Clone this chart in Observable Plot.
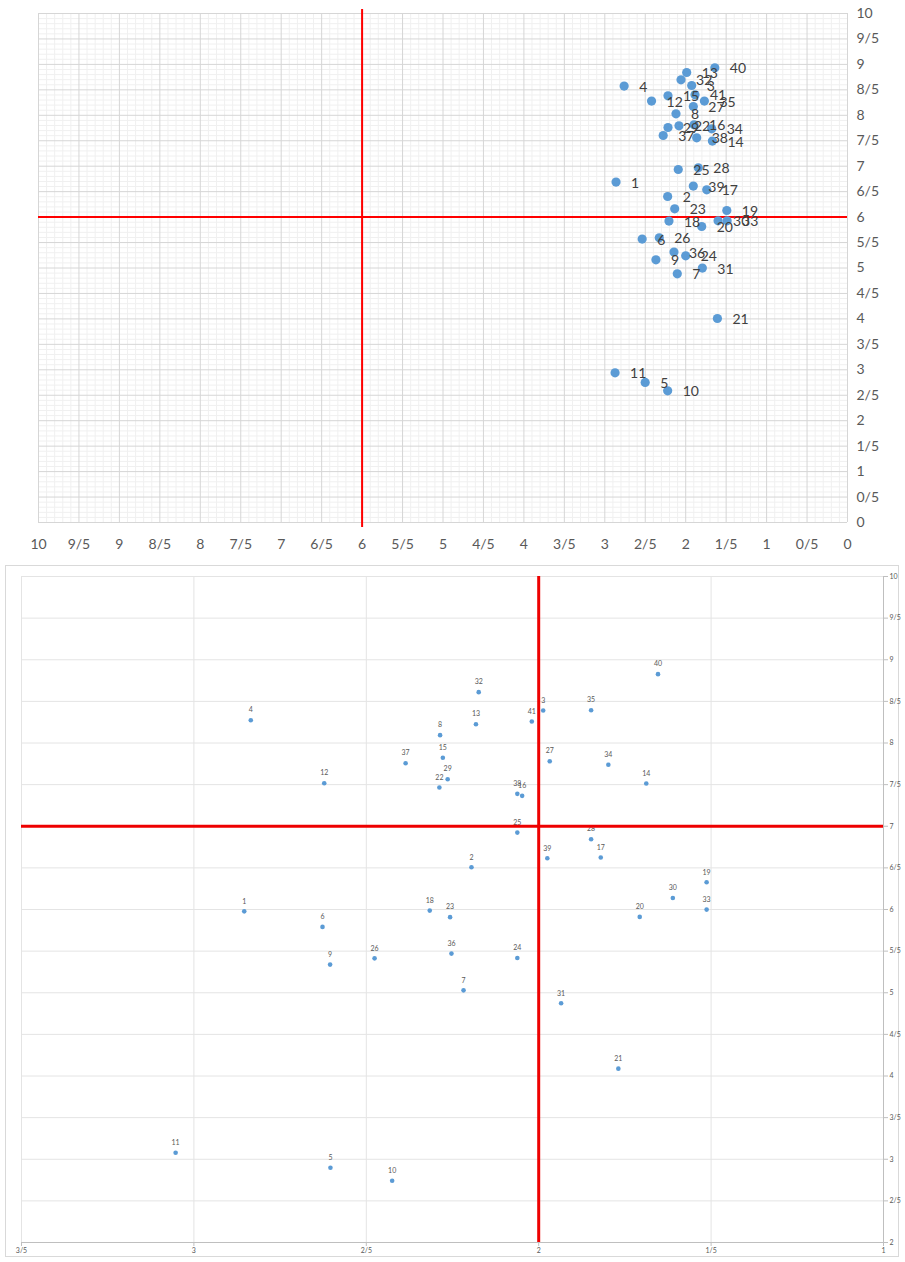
<!DOCTYPE html>
<html>
<head>
<meta charset="utf-8">
<script src="https://cdn.jsdelivr.net/npm/d3@7"></script>
<script src="https://cdn.jsdelivr.net/npm/@observablehq/plot@0.6"></script>
<style>
  html, body { margin: 0; padding: 0; background: #fff; }
  #wrap { position: relative; width: 905px; height: 1262px; font-family: Lato, "Open Sans", sans-serif; }
  #top { position: absolute; left: 0; top: 0; }
  #bottom { position: absolute; left: 0; top: 560px; }
  #box { position: absolute; left: 5px; top: 565px; width: 894px; height: 692px; border: 1px solid #d9d9d9; box-sizing: border-box; pointer-events: none; }
</style>
</head>
<body>
<div id="wrap">
  <div id="top"></div>
  <div id="box"></div>
  <div id="bottom"></div>
</div>
<script>
// ---- Point ids ----
const ids = [1,2,3,4,5,6,7,8,9,10,11,12,13,14,15,16,17,18,19,20,21,22,23,24,25,26,27,28,29,30,31,32,33,34,35,36,37,38,39,40,41];

// ---- Top chart values (x axis reversed 10 -> 0) ----
const topX = [2.861,2.223,1.926,2.761,2.501,2.538,2.104,2.120,2.368,2.223,2.873,2.422,1.988,1.670,2.219,1.897,1.740,2.207,1.492,1.802,1.608,2.083,2.136,2.000,2.092,2.327,1.906,1.844,2.219,1.600,1.794,2.058,1.488,1.678,1.769,2.145,2.278,1.864,1.906,1.640,1.885];
const topY = [6.688,6.405,8.585,8.574,2.751,5.568,4.886,8.029,5.161,2.587,2.941,8.279,8.841,7.493,8.383,7.813,6.536,5.921,6.130,5.815,4.008,7.794,6.163,5.240,6.935,5.593,8.173,6.969,7.760,5.927,4.998,8.697,5.927,7.735,8.279,5.312,7.603,7.558,6.609,8.933,8.403];

// ---- Bottom chart values (zoomed view) ----
const botX = [2.854,2.195,1.987,2.835,2.604,2.627,2.218,2.286,2.605,2.425,3.053,2.622,2.182,1.688,2.278,2.048,1.820,2.316,1.513,1.707,1.769,2.288,2.257,2.062,2.062,2.476,1.968,1.848,2.264,1.611,1.935,2.174,1.513,1.798,1.848,2.253,2.386,2.062,1.975,1.654,2.020];
const botY = [5.978,6.507,8.391,8.274,2.898,5.791,5.029,8.094,5.338,2.742,3.078,7.517,8.226,7.513,7.822,7.365,6.624,5.987,6.327,5.911,4.088,7.465,5.908,5.418,6.924,5.413,7.781,6.844,7.565,6.139,4.873,8.611,5.999,7.738,8.394,5.470,7.757,7.389,6.615,8.827,8.258];

// ---- Tick values ----
const topTicks = [0,0.5,1,1.5,2,2.5,3,3.5,4,4.5,5,5.5,6,6.5,7,7.5,8,8.5,9,9.5,10];
const botXTicks = [1,1.5,2,2.5,3,3.5];
const botYTicks = [2,2.5,3,3.5,4,4.5,5,5.5,6,6.5,7,7.5,8,8.5,9,9.5,10];

// ---- Reference (red) lines ----
const topRefX = [6], topRefY = [6];
const botRefX = [2], botRefY = [7];

const fmt = d => String(d).replace(".", "/");
const topData = ids.map((id, i) => ({id, x: topX[i], y: topY[i]}));
const botData = ids.map((id, i) => ({id, x: botX[i], y: botY[i]}));
const minor = d3.range(0, 100).map(i => i / 10).filter(v => v % 0.5 !== 0);

const topChart = Plot.plot({
  width: 905,
  height: 560,
  marginLeft: 38,
  marginRight: 58,
  marginTop: 13,
  marginBottom: 38,
  style: {fontFamily: "Lato, 'Open Sans', sans-serif", fontSize: "14px", color: "#595959", background: "#fff", overflow: "visible"},
  x: {domain: [10, 0]},
  y: {domain: [0, 10]},
  marks: [
    Plot.gridX(minor, {stroke: "#f0f0f0", strokeOpacity: 1}),
    Plot.gridY(minor, {stroke: "#f0f0f0", strokeOpacity: 1}),
    Plot.gridX(topTicks, {stroke: "#d6d6d6", strokeOpacity: 1}),
    Plot.gridY(topTicks, {stroke: "#d6d6d6", strokeOpacity: 1}),
    Plot.axisX(topTicks, {anchor: "bottom", tickSize: 0, tickPadding: 17, tickFormat: fmt, label: null, fontSize: 14}),
    Plot.axisY(topTicks, {anchor: "right", tickSize: 0, tickPadding: 9, tickFormat: fmt, label: null, fontSize: 14, textAnchor: "start"}),
    Plot.ruleX(topRefX, {stroke: "#ff0000", strokeWidth: 2, insetTop: -4, insetBottom: -5}),
    Plot.ruleY(topRefY, {stroke: "#ff0000", strokeWidth: 2}),
    Plot.dot(topData, {x: "x", y: "y", r: 4.6, fill: "#5b9bd5", stroke: "none"}),
    Plot.text(topData, {x: "x", y: "y", text: d => String(d.id), dx: 15, dy: 1, textAnchor: "start", fontSize: 14, fill: "#404040"})
  ]
});
document.getElementById("top").appendChild(topChart);

const botChart = Plot.plot({
  width: 905,
  height: 702,
  marginLeft: 21,
  marginRight: 22,
  marginTop: 16,
  marginBottom: 20,
  style: {fontFamily: "Lato, 'Open Sans', sans-serif", fontSize: "7px", color: "#595959", background: "transparent"},
  x: {domain: [3.5, 1]},
  y: {domain: [2, 10]},
  marks: [
    Plot.gridX(botXTicks, {stroke: "#e4e4e4", strokeOpacity: 1}),
    Plot.gridY(botYTicks, {stroke: "#e4e4e4", strokeOpacity: 1}),
    Plot.axisX(botXTicks, {anchor: "bottom", tickSize: 4, tickPadding: 2, tickFormat: fmt, label: null, fontSize: 7, stroke: "#bfbfbf"}),
    Plot.axisY(botYTicks, {anchor: "right", tickSize: 4, tickPadding: 2, tickFormat: fmt, label: null, fontSize: 7, stroke: "#bfbfbf"}),
    Plot.ruleY([2], {stroke: "#bfbfbf"}),
    Plot.ruleX([1], {stroke: "#bfbfbf"}),
    Plot.dot(botData, {x: "x", y: "y", r: 2.3, fill: "#5b9bd5", stroke: "none"}),
    Plot.text(botData, {x: "x", y: "y", text: d => String(d.id), dy: -10, textAnchor: "middle", fontSize: 7, fill: "#595959"}),
    Plot.ruleX(botRefX, {stroke: "#ee0000", strokeWidth: 3}),
    Plot.ruleY(botRefY, {stroke: "#ee0000", strokeWidth: 3})
  ]
});
document.getElementById("bottom").appendChild(botChart);
</script>
</body>
</html>
